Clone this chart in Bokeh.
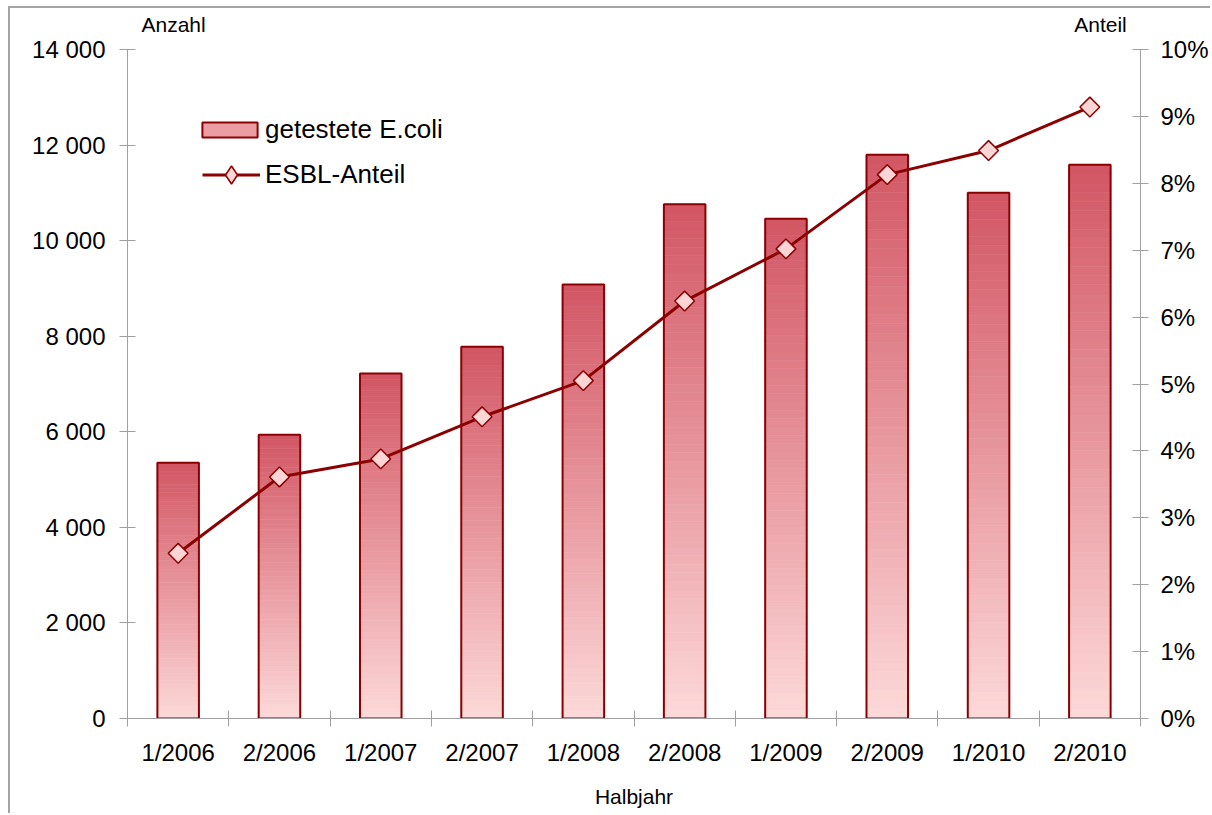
from math import pi, nan

from bokeh.plotting import figure
from bokeh.models import (Range1d, LinearAxis, FixedTicker, PrintfTickFormatter,
                          ColumnDataSource, Legend, LegendItem)
from bokeh.embed import file_html
from bokeh.resources import INLINE

# Half-year periods and the two series
halbjahre = ["1/2006", "2/2006", "1/2007", "2/2007", "1/2008",
             "2/2008", "1/2009", "2/2009", "1/2010", "2/2010"]
getestete_ecoli = [5350, 5940, 7220, 7780, 9080, 10760, 10460, 11800, 11000, 11590]
esbl_anteil = [2.47, 3.61, 3.88, 4.51, 5.05, 6.24, 7.02, 8.13, 8.49, 9.14]

anzahl_ticks = [0, 2000, 4000, 6000, 8000, 10000, 12000, 14000]
anteil_ticks = [0, 1, 2, 3, 4, 5, 6, 7, 8, 9, 10]

FONT = "Liberation Sans"
DARK_RED = "#8b0000"
AXIS_GREY = "#a0a0a0"
MARKER_FILL = "#fdd5d5"
BAR_TOP = (210, 86, 100)
BAR_BOTTOM = (253, 217, 217)
BAR_WIDTH = 0.41
STEPS = 60

n = len(halbjahre)
x_pos = [i + 0.5 for i in range(n)]


def blend(t):
    r, g, b = (round(lo + (hi - lo) * t) for lo, hi in zip(BAR_BOTTOM, BAR_TOP))
    return f"#{r:02x}{g:02x}{b:02x}"


# each bar is filled with thin horizontal bands: light at the base, dark at the top
bands = dict(x=[], bottom=[], top=[], color=[])
for xc, v in zip(x_pos, getestete_ecoli):
    for j in range(STEPS):
        bands["x"].append(xc)
        bands["bottom"].append(v * j / STEPS)
        bands["top"].append(v * (j + 1) / STEPS)
        bands["color"].append(blend((j + 0.5) / STEPS))

p = figure(width=1202, height=807,
           x_range=Range1d(0, n), y_range=Range1d(0, anzahl_ticks[-1]),
           output_backend="svg", toolbar_location=None,
           min_border_left=117, min_border_right=72,
           min_border_top=41, min_border_bottom=97)
p.extra_y_ranges = {"anteil": Range1d(0, anteil_ticks[-1])}
p.styles = {"margin-left": "8px", "margin-top": "6px",
            "border-left": "2px solid #a4a4a4", "border-top": "2px solid #a4a4a4"}
p.outline_line_color = None
p.xgrid.visible = False
p.ygrid.visible = False
p.background_fill_color = "white"
p.border_fill_color = "white"

p.vbar(x="x", bottom="bottom", top="top", width=BAR_WIDTH,
       source=ColumnDataSource(bands),
       fill_color="color", line_color="color", line_width=0.6)
p.vbar(x=x_pos, top=getestete_ecoli, width=BAR_WIDTH,
       fill_color=None, line_color=DARK_RED, line_width=2)

line_r = p.line(x_pos, esbl_anteil, y_range_name="anteil",
                line_color=DARK_RED, line_width=3)
p.scatter(x_pos, esbl_anteil, y_range_name="anteil",
          marker="square", angle=pi / 4, size=14,
          fill_color=MARKER_FILL, line_color=DARK_RED, line_width=1.5)

# placeholder glyphs (no drawable point) that only provide the legend swatches
swatch_bar = p.vbar(x=[nan], top=[nan], width=BAR_WIDTH,
                    fill_color=blend(0.45), line_color=DARK_RED, line_width=2)
swatch_mark = p.scatter(x=[nan], y=[nan], y_range_name="anteil", marker="diamond",
                        fill_color=MARKER_FILL, line_color=DARK_RED, line_width=1.5)


def style_axis(ax):
    ax.axis_line_color = AXIS_GREY
    ax.major_tick_line_color = AXIS_GREY
    ax.minor_tick_line_color = None
    ax.major_tick_in = 8
    ax.major_tick_out = 8
    ax.major_label_text_font = FONT
    ax.major_label_text_font_size = "24px"
    ax.major_label_text_color = "black"


# left axis: counts
ya = p.yaxis[0]
ya.ticker = FixedTicker(ticks=anzahl_ticks)
ya.major_label_overrides = {t: f"{t:,}".replace(",", " ") for t in anzahl_ticks}
style_axis(ya)
ya.major_label_standoff = 14

# right axis: share in percent
yr = LinearAxis(y_range_name="anteil", ticker=FixedTicker(ticks=anteil_ticks),
                formatter=PrintfTickFormatter(format="%d%%"))
style_axis(yr)
yr.major_label_standoff = 12
p.add_layout(yr, "right")

# bottom axis: labels at the bar centres, ticks on the period boundaries
xa = p.xaxis[0]
xa.ticker = FixedTicker(ticks=x_pos, minor_ticks=list(range(n + 1)))
xa.major_label_overrides = {xc: lab for xc, lab in zip(x_pos, halbjahre)}
style_axis(xa)
xa.major_tick_in = 0
xa.major_tick_out = 0
xa.minor_tick_line_color = AXIS_GREY
xa.minor_tick_in = 8
xa.minor_tick_out = 8
xa.major_label_standoff = 12
xa.axis_label = "Halbjahr"
xa.axis_label_text_font = FONT
xa.axis_label_text_font_size = "21px"
xa.axis_label_text_font_style = "normal"
xa.axis_label_text_color = "black"
xa.axis_label_standoff = 16

# unit captions above the two value axes
caption_pos = [0.455, 9.605]
captions = ["Anzahl", "Anteil"]
top_axis = LinearAxis(ticker=FixedTicker(ticks=caption_pos),
                      major_label_overrides=dict(zip(caption_pos, captions)))
top_axis.axis_line_color = None
top_axis.major_tick_line_color = None
top_axis.minor_tick_line_color = None
top_axis.major_tick_in = 0
top_axis.major_tick_out = 0
top_axis.major_label_standoff = 14
top_axis.major_label_text_font = FONT
top_axis.major_label_text_font_size = "21px"
top_axis.major_label_text_color = "black"
p.add_layout(top_axis, "above")

legend_style = dict(orientation="vertical", padding=0, margin=0,
                    label_text_font=FONT, label_text_font_size="26px",
                    label_text_color="black",
                    border_line_color=None, background_fill_alpha=0)
p.add_layout(Legend(items=[LegendItem(label="getestete E.coli", renderers=[swatch_bar])],
                    location=(68, 573), glyph_width=69, glyph_height=19,
                    label_standoff=1, **legend_style))
p.add_layout(Legend(items=[LegendItem(label="ESBL-Anteil", renderers=[line_r, swatch_mark])],
                    location=(75, 521), glyph_width=58, glyph_height=45,
                    label_standoff=5, **legend_style))

open("out.html", "w").write(file_html(p, INLINE))
